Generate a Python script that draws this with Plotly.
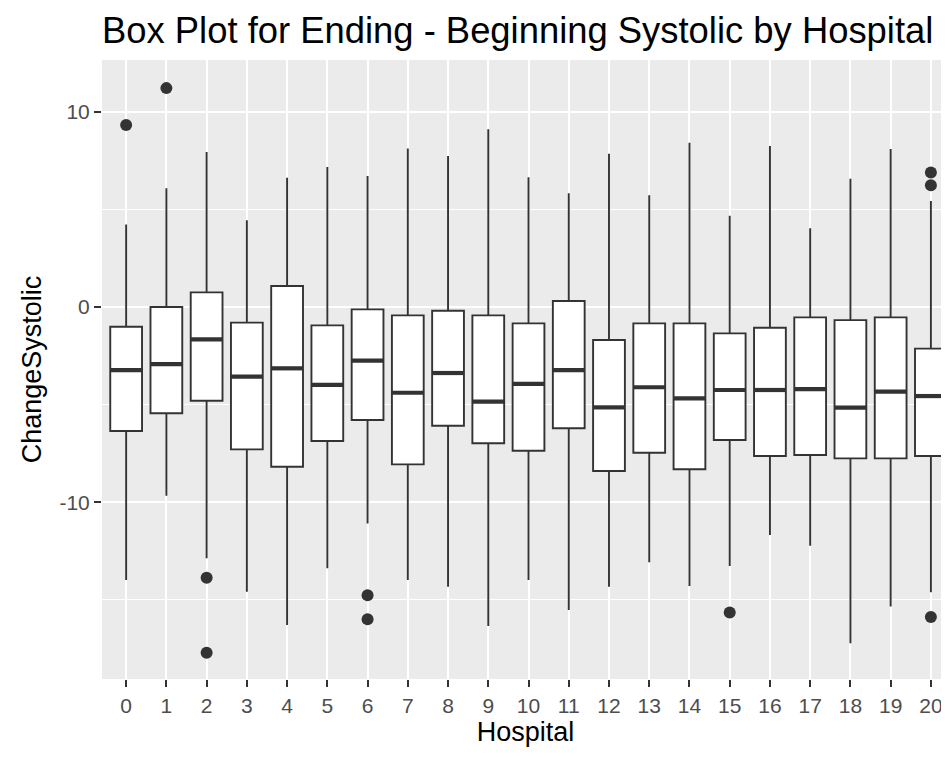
import plotly.graph_objects as go

hospitals = list(range(21))
q1 = [-6.35, -5.44, -4.80, -7.29, -8.18, -6.86, -5.79, -8.06, -6.08, -6.98,
      -7.36, -6.21, -8.40, -7.46, -8.31, -6.81, -7.63, -7.58, -7.75, -7.75, -7.63]
median = [-3.23, -2.92, -1.66, -3.57, -3.14, -3.99, -2.75, -4.39, -3.38, -4.85,
          -3.94, -3.23, -5.14, -4.11, -4.68, -4.25, -4.25, -4.20, -5.15, -4.33, -4.56]
q3 = [-1.01, 0.00, 0.75, -0.80, 1.08, -0.94, -0.12, -0.43, -0.19, -0.43,
      -0.84, 0.31, -1.69, -0.84, -0.84, -1.35, -1.06, -0.53, -0.67, -0.53, -2.13]
whisker_low = [-13.98, -9.66, -12.87, -14.58, -16.28, -13.38, -11.09, -13.98, -14.32, -16.33,
               -13.98, -15.51, -14.32, -13.07, -14.29, -13.26, -11.67, -12.22, -17.22, -15.34, -14.61]
whisker_high = [4.23, 6.08, 7.94, 4.44, 6.62, 7.17, 6.71, 8.12, 7.73, 9.10,
                6.64, 5.82, 7.85, 5.73, 8.41, 4.68, 8.24, 4.03, 6.57, 8.09, 5.43]
outlier_hospital = [0, 1, 2, 2, 6, 6, 15, 20, 20, 20]
outlier_value = [9.32, 11.21, -13.86, -17.70, -14.76, -15.99, -15.65, 6.89, 6.23, -15.87]

tick_labels = [str(h) for h in hospitals]
y_ticks = [-10, 0, 10]
y_tick_labels = ["-10", "0", "10"]

BOX_WIDTH = 0.79
LINE = "#333333"
FONT = "Liberation Sans, Arial, sans-serif"

fig = go.Figure()
fig.add_trace(go.Box(
    x=hospitals, q1=q1, median=median, q3=q3,
    lowerfence=whisker_low, upperfence=whisker_high,
    boxpoints=False, width=BOX_WIDTH, whiskerwidth=0,
    fillcolor="white", line=dict(color=LINE, width=1.9),
    showlegend=False, hoverinfo="skip",
))

# thicker median bars (ggplot fatten)
mx, my = [], []
for h, m in zip(hospitals, median):
    mx += [h - BOX_WIDTH / 2, h + BOX_WIDTH / 2, None]
    my += [m, m, None]
fig.add_trace(go.Scatter(x=mx, y=my, mode="lines",
                         line=dict(color=LINE, width=4.2),
                         showlegend=False, hoverinfo="skip"))

fig.add_trace(go.Scatter(x=outlier_hospital, y=outlier_value, mode="markers",
                         marker=dict(color=LINE, size=12),
                         showlegend=False, hoverinfo="skip"))

# the page body adds an 8px offset; size the figure so the page fits the window
fig.update_layout(
    width=941, height=741,
    margin=dict(l=94, r=0, t=52, b=70, autoexpand=False),
    paper_bgcolor="white", plot_bgcolor="#EBEBEB",
    font=dict(family=FONT, color="black"),
    title=dict(text="Box Plot for Ending - Beginning Systolic by Hospital",
               x=0, xref="paper", xanchor="left",
               y=1 - 22 / 741, yref="container", yanchor="middle",
               font=dict(size=36.4, color="black", family=FONT)),
)
fig.update_xaxes(
    range=[-0.6, 20.45], tickmode="array", tickvals=hospitals, ticktext=tick_labels,
    showgrid=True, gridcolor="white", gridwidth=2, zeroline=False,
    ticks="outside", ticklen=7, tickwidth=2, tickcolor=LINE,
    tickfont=dict(size=21, color="#4D4D4D"), showline=False, automargin=False,
    ticklabelstandoff=1,
    title=dict(text="Hospital", font=dict(size=27, color="black"), standoff=0),
)
fig.update_yaxes(
    range=[-19.05, 12.65], tickmode="array", tickvals=y_ticks, ticktext=y_tick_labels,
    showgrid=True, gridcolor="white", gridwidth=2, zeroline=False,
    minor=dict(dtick=5, tick0=0, showgrid=True, gridcolor="white", gridwidth=1, ticks=""),
    ticks="outside", ticklen=7, tickwidth=2, tickcolor=LINE,
    tickfont=dict(size=21, color="#4D4D4D"), showline=False, automargin=False,
    ticklabelstandoff=0,
    title=dict(text="ChangeSystolic", font=dict(size=27, color="black"), standoff=9),
)

fig.write_html("out.html")
